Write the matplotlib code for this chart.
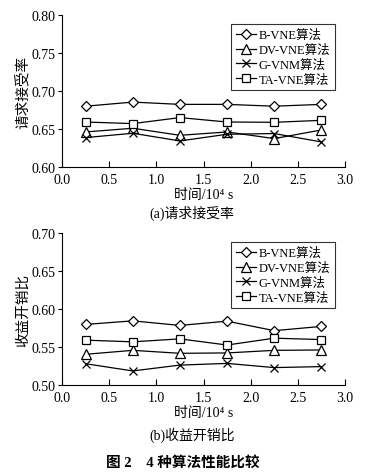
import matplotlib
matplotlib.use("Agg")
import matplotlib.pyplot as plt

plt.rcParams['font.family'] = ['Liberation Serif', 'Noto Sans CJK SC']

x = [0.25, 0.75, 1.25, 1.75, 2.25, 2.75]
series_names = ['B-VNE算法', 'DV-VNE算法', 'G-VNM算法', 'TA-VNE算法']
markers = ['D', '^', 'x', 's']
marker_sizes = [5, 6.5, 6, 6]

# (a) request acceptance ratio
acc_b = [0.680, 0.6854, 0.6824, 0.6824, 0.680, 0.6824]
acc_dv = [0.6461, 0.651, 0.6417, 0.6461, 0.6374, 0.6487]
acc_g = [0.6387, 0.6444, 0.6343, 0.6431, 0.644, 0.633]
acc_ta = [0.6592, 0.6571, 0.665, 0.6592, 0.6588, 0.6614]

# (b) revenue/cost ratio
rc_b = [0.5797, 0.5844, 0.5784, 0.584, 0.5715, 0.5771]
rc_dv = [0.5404, 0.5456, 0.5417, 0.5422, 0.5456, 0.5461]
rc_g = [0.528, 0.5185, 0.5262, 0.5284, 0.5229, 0.5242]
rc_ta = [0.559, 0.5568, 0.5607, 0.5526, 0.5616, 0.5598]

xticks = [0.0, 0.5, 1.0, 1.5, 2.0, 2.5, 3.0]

W, H = 367, 477
fig = plt.figure(figsize=(W / 100, H / 100), dpi=100)


def make_axes(top, bottom):
    left, right = 62, 345
    return fig.add_axes([left / W, 1 - bottom / H, (right - left) / W, (bottom - top) / H])


def draw(ax, data, ylim, yticks, ylabel):
    for vals, name, m, ms in zip(data, series_names, markers, marker_sizes):
        ax.plot(x, vals, color='black', lw=0.9, marker=m, ms=ms,
                mfc='white', mec='black', mew=0.9, label=name)
    ax.set_xlim(0, 3.0)
    ax.set_ylim(*ylim)
    ax.set_xticks(xticks)
    ax.set_xticklabels([f'{t:.1f}' for t in xticks])
    ax.set_yticks(yticks)
    ax.set_yticklabels([f'{t:.2f}' for t in yticks])
    for s in ['top', 'right']:
        ax.spines[s].set_visible(False)
    for s in ['left', 'bottom']:
        ax.spines[s].set_linewidth(0.8)
    ax.tick_params(axis='x', direction='in', length=4, labelsize=10, pad=4, width=0.8)
    ax.tick_params(axis='y', direction='out', length=3, labelsize=10, width=0.8, pad=2)
    ax.set_ylabel(ylabel, fontsize=10.5, labelpad=1)
    ax.set_xlabel('时间/10⁴ s', fontsize=10, labelpad=2)
    leg = ax.legend(loc='upper right', bbox_to_anchor=(0.965, 0.94), fontsize=9,
                    frameon=True, fancybox=False, edgecolor='black',
                    handlelength=1.6, handletextpad=0.2, borderpad=0.4,
                    labelspacing=0.2, borderaxespad=0)
    leg.get_frame().set_linewidth(0.8)


ax1 = make_axes(16, 168)
draw(ax1, [acc_b, acc_dv, acc_g, acc_ta], (0.60, 0.80),
     [0.60, 0.65, 0.70, 0.75, 0.80], '请求接受率')
fig.text(192 / W, 1 - 213 / H, '(a)请求接受率', ha='center', va='center', fontsize=10)

ax2 = make_axes(234, 386)
draw(ax2, [rc_b, rc_dv, rc_g, rc_ta], (0.50, 0.70),
     [0.50, 0.55, 0.60, 0.65, 0.70], '收益开销比')
fig.text(192 / W, 1 - 435 / H, '(b)收益开销比', ha='center', va='center', fontsize=10)

fig.text(183 / W, 1 - 463 / H, '图 2　4 种算法性能比较', ha='center', va='center',
         fontsize=10.5, fontweight='bold')

fig.savefig('out.png', dpi=100)
